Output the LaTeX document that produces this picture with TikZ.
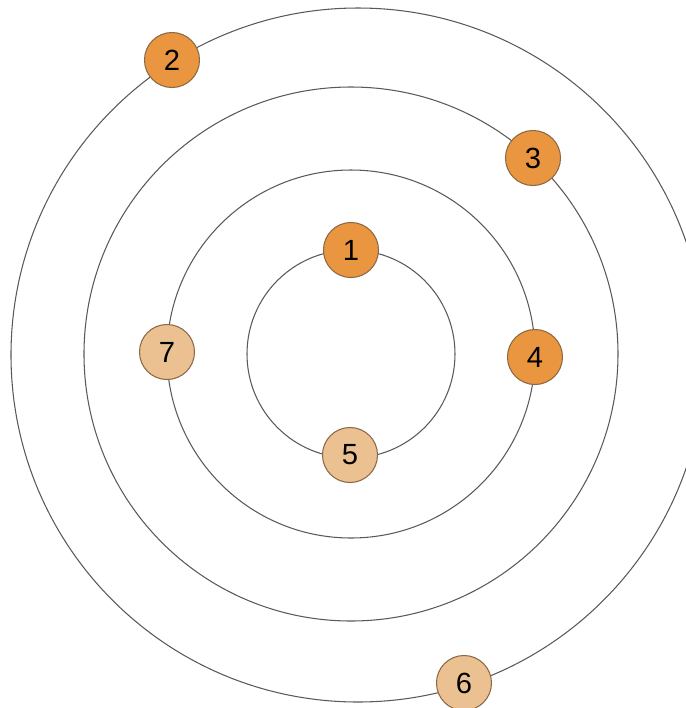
\documentclass[tikz,border=0pt]{standalone}
\usepackage{fontspec}
\setmainfont{Liberation Sans}
\usepackage{xcolor}
\usetikzlibrary{backgrounds}
\pgfdeclarelayer{edgelayer}
\pgfdeclarelayer{nodelayer}
\pgfsetlayers{background,edgelayer,nodelayer,main}
\definecolor{darkorange}{RGB}{234,150,64}
\definecolor{lightorange}{RGB}{236,193,146}
\definecolor{ringborder}{RGB}{140,105,70}
\tikzstyle{none}=[inner sep=0mm]
\tikzstyle{orbit}=[draw=black!65,line width=0.3pt]
\tikzstyle{bead}=[shape=circle,draw=ringborder,line width=0.3pt,minimum size=0.55cm,inner sep=0pt,font=\fontsize{8.3}{10}\selectfont]
\tikzstyle{dn}=[bead,fill=darkorange]
\tikzstyle{ln}=[bead,fill=lightorange]

\begin{document}
\begin{tikzpicture}[x=0.01cm,y=-0.01cm]
	\useasboundingbox (0,0) rectangle (686,708);
	\begin{pgfonlayer}{nodelayer}
		\node [style=dn] (1) at (351, 250) {1};
		\node [style=dn] (2) at (172, 60) {2};
		\node [style=dn] (3) at (533, 158) {3};
		\node [style=dn] (4) at (535, 357) {4};
		\node [style=ln] (5) at (350, 455) {5};
		\node [style=ln] (6) at (464, 683) {6};
		\node [style=ln] (7) at (167, 352) {7};
	\end{pgfonlayer}
	\begin{pgfonlayer}{edgelayer}
		\coordinate (c) at (351, 354);
		\coordinate (o) at (358, 355);
		\draw [style=orbit] (c) circle (104);
		\draw [style=orbit] (c) circle (184);
		\draw [style=orbit] (c) circle (267);
		\draw [style=orbit] (o) circle (347);
	\end{pgfonlayer}
\end{tikzpicture}
\end{document}
